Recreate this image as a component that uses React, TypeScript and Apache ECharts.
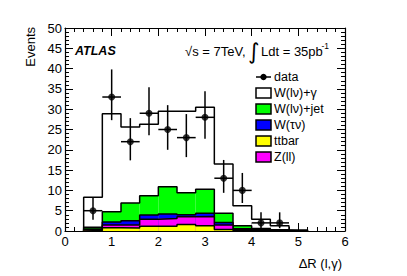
import React, { useEffect, useRef } from 'react';
import * as echarts from 'echarts';

// Bin edges of Delta R (l, gamma)
const binEdges = [0.4, 0.8, 1.2, 1.6, 2.0, 2.4, 2.8, 3.2, 3.6, 4.0, 4.4, 4.8, 5.2];

// Stacked background / signal components (events per bin), bottom to top
const ttbar = [0.1, 0.8, 0.75, 1.2, 1.2, 1.6, 1.3, 0.4, 0.15, 0.1, 0.05, 0];
const zll = [0.2, 0.7, 0.75, 1.7, 1.85, 1.9, 2.3, 1.1, 0.2, 0.1, 0.05, 0];
const wtaunu = [0.2, 0.7, 1.0, 1.05, 1.15, 0.5, 0.8, 0.6, 0.2, 0.1, 0.05, 0];
const wjet = [0.4, 2.55, 4.4, 4.75, 6.7, 5.4, 5.9, 2.3, 0.75, 0.3, 0.15, 0.05];
const wgamma = [7.4, 24.15, 18.7, 17.6, 18.6, 20.1, 20.2, 12.1, 4.9, 2.3, 1.0, 0.2];

// Data points with asymmetric errors
const dataX = [0.6, 1.0, 1.4, 1.8, 2.2, 2.6, 3.0, 3.4, 3.8, 4.2, 4.6];
const dataY = [5, 33, 22, 29, 25, 23, 28, 13, 10, 2, 2];
const dataLow = [2.8, 27.3, 17.4, 23.6, 20.0, 18.2, 22.7, 9.4, 6.9, 0.7, 0.7];
const dataHigh = [8.2, 39.8, 27.8, 35.4, 31.0, 28.8, 34.4, 17.5, 14.3, 4.6, 4.6];
const dataHalfWidth = 0.2;

// Axis ticks
const xTicks = { min: 0, max: 6, interval: 1 };
const yTicks = { min: 0, max: 50, interval: 5 };

const components = [
  { name: 'ttbar', values: ttbar, color: '#ffff00' },
  { name: 'Z(ll)', values: zll, color: '#ff00ff' },
  { name: 'W(τν)', values: wtaunu, color: '#0000ff' },
  { name: 'W(lν)+jet', values: wjet, color: '#00ff00' },
  { name: 'W(lν)+γ', values: wgamma, color: '#ffffff' },
];

const legendRows = [
  { label: 'data', kind: 'data', color: '#000' },
  { label: 'W(lν)+γ', kind: 'box', color: '#ffffff' },
  { label: 'W(lν)+jet', kind: 'box', color: '#00ff00' },
  { label: 'W(τν)', kind: 'box', color: '#0000ff' },
  { label: 'ttbar', kind: 'box', color: '#ffff00' },
  { label: 'Z(ll)', kind: 'box', color: '#ff00ff' },
];

const FONT = '"Liberation Sans", Arial, Helvetica, sans-serif';

export default function App() {
  const ref = useRef<HTMLDivElement>(null);

  useEffect(() => {
    if (!ref.current) return;
    const chart = echarts.init(ref.current, undefined, { renderer: 'svg' });

    // cumulative stacks
    const cum: number[][] = [];
    let running = binEdges.slice(1).map(() => 0);
    components.forEach((c) => {
      const base = running.slice();
      const top = running.map((v, i) => v + c.values[i]);
      cum.push(base, top);
      running = top;
    });

    const fillSeries: any[] = [];
    const outlineSeries: any[] = [];
    // draw from the largest stack to the smallest (ROOT THStack style)
    for (let k = components.length - 1; k >= 0; k--) {
      const c = components[k];
      const top = cum[2 * k + 1];
      const rects = top.map((t, i) => [binEdges[i], binEdges[i + 1], 0, t]);
      fillSeries.push({
        type: 'custom',
        name: c.name,
        silent: true,
        z: 2 + (components.length - k) * 2,
        encode: { x: [0, 1], y: [2, 3] },
        data: rects,
        renderItem: (params: any, api: any) => {
          const lo = api.value(0), hi = api.value(1), b = api.value(2), t = api.value(3);
          const p1 = api.coord([lo, t]);
          const p2 = api.coord([hi, b]);
          return {
            type: 'rect',
            shape: { x: p1[0], y: p1[1], width: p2[0] - p1[0], height: p2[1] - p1[1] },
            style: { fill: c.color },
          };
        },
      });
      const pts: number[][] = [[binEdges[0], 0]];
      top.forEach((t, i) => {
        pts.push([binEdges[i], t]);
        pts.push([binEdges[i + 1], t]);
      });
      pts.push([binEdges[binEdges.length - 1], 0]);
      outlineSeries.push({
        type: 'line',
        silent: true,
        z: 3 + (components.length - k) * 2,
        data: pts,
        symbol: 'none',
        lineStyle: { color: '#000', width: 1.5 },
      });
    }

    const errData = dataX.map((x, i) => [x, dataY[i], dataLow[i], dataHigh[i]]);

    const graphics: any[] = [];
    // Legend
    const legX = 256;
    const legY0 = 77;
    const legStep = 16;
    legendRows.forEach((r, i) => {
      const cy = legY0 + i * legStep;
      if (r.kind === 'data') {
        graphics.push({ type: 'line', shape: { x1: legX, y1: cy, x2: legX + 15, y2: cy }, style: { stroke: '#000', lineWidth: 1.5 } });
        graphics.push({ type: 'circle', shape: { cx: legX + 7.5, cy, r: 3.2 }, style: { fill: '#000' } });
      } else {
        graphics.push({ type: 'rect', shape: { x: legX, y: cy - 5, width: 15, height: 10 }, style: { fill: r.color, stroke: '#000', lineWidth: 1.5 } });
      }
      graphics.push({
        type: 'text', x: legX + 18, y: cy,
        style: { text: r.label, font: `12.5px ${FONT}`, fill: '#000', verticalAlign: 'middle', align: 'left' },
      });
    });
    // ATLAS label
    graphics.push({ type: 'text', x: 75, y: 51, style: { text: 'ATLAS', font: `italic bold 12.5px ${FONT}`, fill: '#000', verticalAlign: 'middle' } });
    // energy / luminosity
    graphics.push({ type: 'text', x: 185, y: 51, style: { text: '√s = 7TeV,', font: `13px ${FONT}`, fill: '#000', verticalAlign: 'middle' } });
    graphics.push({ type: 'text', x: 248, y: 51, style: { text: '∫', font: `22px "DejaVu Sans", ${FONT}`, fill: '#000', verticalAlign: 'middle' } });
    graphics.push({ type: 'text', x: 261, y: 51, style: { text: 'Ldt = 35pb', font: `13px ${FONT}`, fill: '#000', verticalAlign: 'middle' } });
    graphics.push({ type: 'text', x: 321.5, y: 45.5, style: { text: '-1', font: `8.5px ${FONT}`, fill: '#000', verticalAlign: 'middle' } });
    // Axis titles
    graphics.push({ type: 'text', x: 342, y: 263, style: { text: 'ΔR (l,γ)', font: `13px ${FONT}`, fill: '#000', verticalAlign: 'middle', align: 'right' } });
    graphics.push({ type: 'text', x: 30, y: 27, rotation: Math.PI / 2, style: { text: 'Events', font: `13px ${FONT}`, fill: '#000', verticalAlign: 'middle', align: 'right' } });

    const axisCommon = {
      type: 'value',
      axisLine: { show: true, onZero: false, lineStyle: { color: '#000', width: 1.2 } },
      axisTick: { show: true, inside: true, length: 8, lineStyle: { color: '#000', width: 1 } },
      minorTick: { show: true, splitNumber: 5, length: 4, lineStyle: { color: '#000', width: 1 } },
      splitLine: { show: false },
      minorSplitLine: { show: false },
    };

    chart.setOption({
      animation: false,
      backgroundColor: '#fff',
      grid: { left: 65, top: 28, width: 280, height: 203, containLabel: false },
      xAxis: [
        {
          ...axisCommon, position: 'bottom', ...xTicks,
          axisLabel: { show: true, color: '#000', fontSize: 13, fontFamily: FONT, margin: 4 },
        },
        { ...axisCommon, position: 'top', ...xTicks, axisLabel: { show: false } },
      ],
      yAxis: [
        {
          ...axisCommon, position: 'left', ...yTicks,
          axisLabel: { show: true, color: '#000', fontSize: 13, fontFamily: FONT, margin: 3 },
        },
        { ...axisCommon, position: 'right', ...yTicks, axisLabel: { show: false } },
      ],
      series: [
        ...fillSeries,
        ...outlineSeries,
        {
          type: 'custom',
          silent: true,
          z: 30,
          encode: { x: 0, y: [1, 2, 3] },
          data: errData,
          renderItem: (params: any, api: any) => {
            const x = api.value(0), y = api.value(1), lo = api.value(2), hi = api.value(3);
            const pLo = api.coord([x, lo]);
            const pHi = api.coord([x, hi]);
            const pL = api.coord([x - dataHalfWidth, y]);
            const pR = api.coord([x + dataHalfWidth, y]);
            const st = { stroke: '#000', lineWidth: 1.5 };
            return {
              type: 'group',
              children: [
                { type: 'line', shape: { x1: pLo[0], y1: pLo[1], x2: pHi[0], y2: pHi[1] }, style: st },
                { type: 'line', shape: { x1: pL[0], y1: pL[1], x2: pR[0], y2: pR[1] }, style: st },
              ],
            };
          },
        },
        {
          type: 'scatter',
          name: 'data',
          z: 31,
          silent: true,
          symbol: 'circle',
          symbolSize: 7,
          itemStyle: { color: '#000' },
          data: dataX.map((x, i) => [x, dataY[i]]),
        },
      ],
      graphic: graphics,
    });

    return () => chart.dispose();
  }, []);

  return (
    <div
      ref={ref}
      style={{ position: 'absolute', left: 0, top: 0, width: 407, height: 276, background: '#fff' }}
    />
  );
}
